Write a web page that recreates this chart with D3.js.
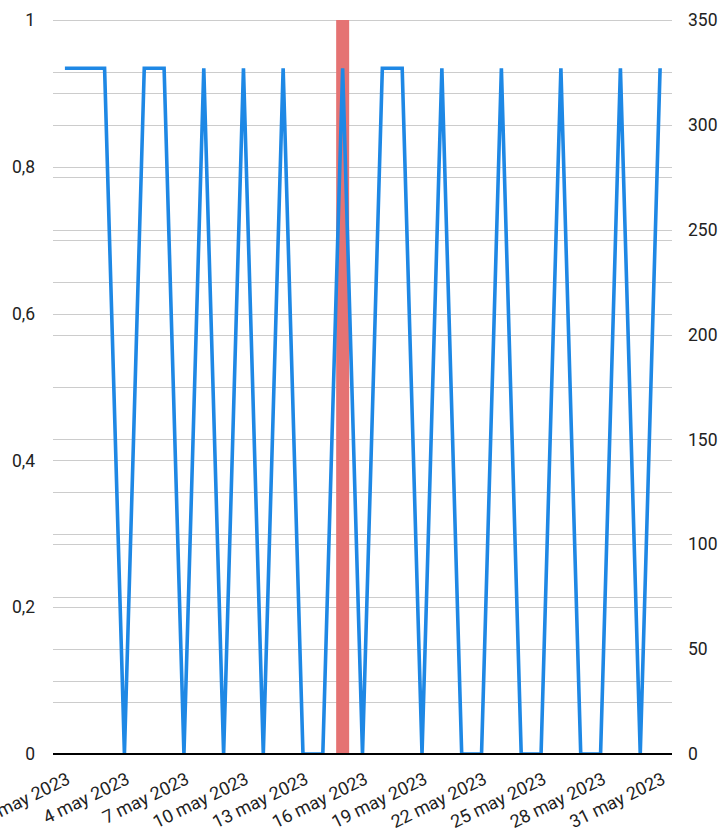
<!DOCTYPE html>
<html>
<head>
<meta charset="utf-8">
<script src="https://cdn.jsdelivr.net/npm/d3@7/dist/d3.min.js"></script>
<style>
  html, body { margin: 0; padding: 0; background: #fff; }
  svg { display: block; font-family: Roboto, "Noto Sans", sans-serif; }
</style>
</head>
<body>
<div id="chart"></div>
<script>
// ---- Data ----
const days = d3.range(1, 32).map(d => d + " may 2023");
const lineValues = [327, 327, 327, 0, 327, 327, 0, 327, 0, 327, 0, 327, 0, 0, 327, 0,
                    327, 327, 0, 327, 0, 0, 327, 0, 0, 327, 0, 0, 327, 0, 327];
const barValues = days.map((d, i) => i === 14 ? 1 : 0);
const leftTicks = [0, 0.2, 0.4, 0.6, 0.8, 1];
const leftMinor = d3.range(0, 11).map(i => i / 10);
const rightTicks = [0, 50, 100, 150, 200, 250, 300, 350];
const rightMinor = d3.range(0, 15).map(i => i * 25);
const labelDays = days.filter((d, i) => i % 3 === 0);

// ---- Layout ----
const W = 725, H = 833;
const plot = { left: 53, right: 672, top: 20, bottom: 754 };
const FS = 17.5;
const FSX = 18;

const svg = d3.select("#chart").append("svg").attr("width", W).attr("height", H);

const x = d3.scalePoint().domain(days).range([plot.left, plot.right]).padding(0.6);
const yL = d3.scaleLinear().domain([0, 1]).range([plot.bottom, plot.top]);
const yR = d3.scaleLinear().domain([0, 350]).range([plot.bottom, plot.top]);

const fmt = d => d3.format("")(d).replace(".", ",");

// gridlines
const grid = svg.append("g").attr("stroke", "#cccccc").attr("stroke-width", 1);
leftMinor.forEach(v => grid.append("line")
  .attr("x1", plot.left).attr("x2", plot.right)
  .attr("y1", Math.round(yL(v)) + 0.5).attr("y2", Math.round(yL(v)) + 0.5));
rightMinor.forEach(v => grid.append("line")
  .attr("x1", plot.left).attr("x2", plot.right)
  .attr("y1", Math.round(yR(v)) + 0.5).attr("y2", Math.round(yR(v)) + 0.5));

// bars (left axis)
const barW = 13;
svg.append("g").selectAll("rect").data(days.map((d, i) => ({ d, v: barValues[i] })).filter(o => o.v > 0))
  .join("rect")
  .attr("x", o => x(o.d) - barW / 2)
  .attr("width", barW)
  .attr("y", o => yL(o.v))
  .attr("height", o => yL(0) - yL(o.v))
  .attr("fill", "#e57373");

// line (right axis)
svg.append("clipPath").attr("id", "clip").append("rect")
  .attr("x", plot.left).attr("y", plot.top - 5)
  .attr("width", plot.right - plot.left).attr("height", plot.bottom - plot.top + 5);
const line = d3.line().x((v, i) => x(days[i])).y(v => yR(v));
svg.append("path")
  .attr("clip-path", "url(#clip)")
  .attr("d", line(lineValues))
  .attr("fill", "none")
  .attr("stroke", "#1e88e5")
  .attr("stroke-width", 3.6)
  .attr("stroke-linejoin", "miter")
  .attr("stroke-miterlimit", 10);

// baseline
svg.append("line")
  .attr("x1", plot.left).attr("x2", plot.right)
  .attr("y1", plot.bottom).attr("y2", plot.bottom)
  .attr("stroke", "#000").attr("stroke-width", 2);

// left axis
const axL = d3.axisLeft(yL).tickValues(leftTicks).tickFormat(fmt).tickSize(0).tickPadding(0);
const gL = svg.append("g").attr("transform", "translate(35,0)").call(axL);
gL.select(".domain").remove();
gL.selectAll("text").attr("font-size", FS).attr("fill", "#222").attr("font-family", "Roboto");

// right axis
const axR = d3.axisRight(yR).tickValues(rightTicks).tickSize(0).tickPadding(0);
const gR = svg.append("g").attr("transform", "translate(688,0)").call(axR);
gR.select(".domain").remove();
gR.selectAll("text").attr("font-size", FS).attr("fill", "#222").attr("font-family", "Roboto");

// x axis labels
const axX = d3.axisBottom(x).tickValues(labelDays).tickSize(0).tickPadding(0);
const gX = svg.append("g").call(axX);
gX.select(".domain").remove();
gX.selectAll(".tick").attr("transform", null);
gX.selectAll(".tick text")
  .attr("x", null).attr("y", null).attr("dy", null)
  .attr("text-anchor", "end")
  .attr("transform", d => `translate(${x(d) + 6.5},783) rotate(-26)`)
  .attr("font-size", FSX).attr("fill", "#222").attr("font-family", "Roboto");
</script>
</body>
</html>
